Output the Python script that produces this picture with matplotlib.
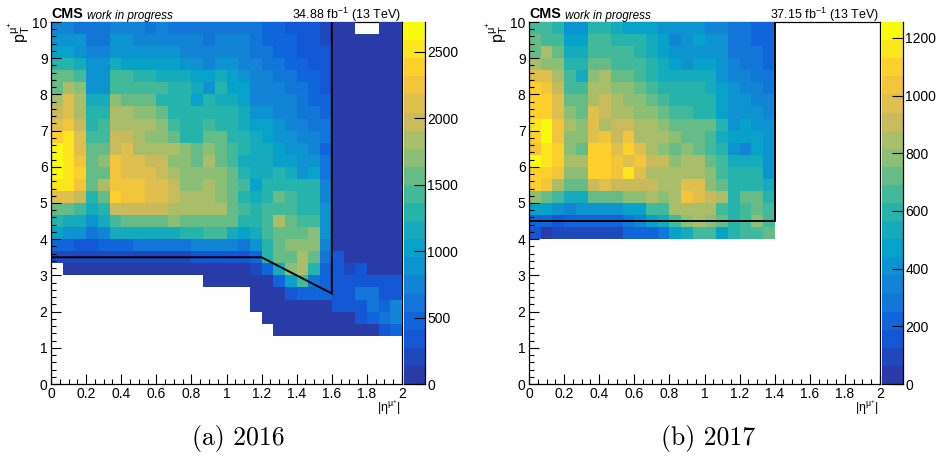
# %%
import numpy as np
import matplotlib
matplotlib.use('Agg')
import matplotlib.pyplot as plt
from matplotlib.colors import BoundaryNorm, LinearSegmentedColormap
from matplotlib.ticker import MultipleLocator, FormatStrFormatter

plt.rcParams['font.family'] = ['Liberation Sans', 'DejaVu Sans']
plt.rcParams['mathtext.fontset'] = 'custom'
plt.rcParams['mathtext.rm'] = 'Liberation Sans'
plt.rcParams['mathtext.it'] = 'Liberation Sans:italic'
plt.rcParams['mathtext.default'] = 'regular'

# %%
n = np.nan

# rows run from pT = 10 down to pT = 0, columns from |eta| = 0 to |eta| = 2
counts_2016 = [
    [750,750,610,610,610,750,750,750,610,750,610,610,610,610,610,610,610,610,480,480,340,340,340,200,70,70,n,n,70,70],
    [880,880,880,610,610,880,880,750,750,750,750,750,750,610,750,750,750,610,480,480,480,340,340,200,70,70,70,70,70,70],
    [1020,1020,880,750,750,880,880,880,880,880,880,750,750,750,750,750,750,610,610,480,480,340,340,340,70,70,70,70,70,70],
    [1290,1290,1160,880,880,1160,1020,1020,1020,1020,1020,880,880,750,880,880,750,750,610,610,480,480,340,340,70,70,70,70,70,70],
    [1560,1560,1430,880,880,1430,1430,1290,1290,1160,1160,1160,1020,1020,1160,1020,880,750,750,610,610,480,480,340,70,70,70,70,70,70],
    [1560,1840,1700,880,880,1430,1430,1430,1430,1430,1290,1290,1160,880,1290,1020,1020,750,750,750,610,610,480,340,70,70,70,70,70,70],
    [1840,2110,1840,1160,1160,1700,1560,1560,1560,1290,1290,1290,1020,1290,1160,1160,1020,750,750,750,750,610,480,480,70,70,70,70,70,70],
    [1970,2110,1840,1290,1290,1840,1840,1700,1700,1560,1290,1290,1290,1290,1290,1290,1160,880,880,750,750,610,610,480,70,70,70,70,70,70],
    [2110,2240,1970,1290,1430,1840,1840,1840,1840,1700,1430,1290,1290,1430,1290,1290,1160,1020,1020,880,750,750,610,610,70,70,70,70,70,70],
    [2380,2520,2110,1430,1430,1970,1970,1840,1700,1700,1560,1290,1290,1560,1560,1290,1290,1160,1020,880,880,750,750,610,70,70,70,70,70,70],
    [2650,2520,2110,1560,1560,1970,2110,1840,1840,1840,1840,1700,1560,1700,1560,1430,1290,1160,1160,1020,880,880,750,480,70,70,70,70,70,70],
    [2650,2520,2240,1560,1700,2240,2110,2110,1970,1970,1700,1700,1560,1840,1560,1430,1160,1160,1160,1020,1020,880,880,610,70,70,70,70,70,70],
    [2650,2520,2380,1560,1560,2240,2110,2110,2110,1970,1840,1700,1700,1700,1700,1560,1290,1160,1160,1290,1160,880,1020,610,70,70,70,70,70,70],
    [2520,2520,2240,1560,1840,2240,2240,2240,2110,2110,1970,1700,1700,1840,1700,1560,1430,1020,1290,1290,1290,1290,1290,750,70,70,70,70,70,70],
    [2110,2110,1970,1290,1560,2380,2240,2240,2110,2110,1970,1840,1840,1840,1700,1560,1290,1160,1290,1560,1430,1290,1290,750,70,70,70,70,70,70],
    [1560,1560,1430,1160,1290,1970,1970,1970,1970,1970,1840,1840,1840,1840,1840,1560,1430,1290,1430,1430,1430,1290,1290,880,70,70,70,70,70,70],
    [1290,1160,1160,880,1160,1430,1560,1560,1560,1560,1700,1560,1560,1560,1560,1560,1290,1290,1430,1840,1560,1430,1430,880,70,70,70,70,70,70],
    [1020,880,880,610,750,1160,1160,1160,1160,1160,1160,1290,1290,1430,1430,1160,1020,1160,1430,1560,1560,1560,1700,880,70,70,70,70,70,70],
    [480,480,340,340,480,480,480,610,610,610,610,610,750,750,750,750,610,880,1290,1560,1700,1700,1700,750,70,70,70,70,70,70],
    [200,200,200,200,200,200,200,200,200,200,200,200,340,340,340,340,340,480,1290,1560,1560,1840,1560,610,340,70,70,70,70,70],
    [n,70,70,70,70,70,70,70,70,70,70,70,70,70,70,70,70,200,480,1160,1700,1840,1290,480,340,200,340,70,70,70],
    [n,n,n,n,n,n,n,n,n,n,n,n,n,70,70,70,70,70,70,480,1020,1430,610,480,340,340,340,340,340,340],
    [n,n,n,n,n,n,n,n,n,n,n,n,n,n,n,n,n,70,70,70,340,480,480,480,340,340,610,610,340,340],
    [n,n,n,n,n,n,n,n,n,n,n,n,n,n,n,n,n,70,70,70,70,70,70,70,340,340,340,610,480,750],
    [n,n,n,n,n,n,n,n,n,n,n,n,n,n,n,n,n,n,70,70,70,70,70,70,70,70,340,480,610,750],
    [n,n,n,n,n,n,n,n,n,n,n,n,n,n,n,n,n,n,n,70,70,70,70,70,70,70,70,70,340,480],
    [n] * 30,
    [n] * 30,
    [n] * 30,
    [n] * 30,
]

# only the first 21 columns and the top 18 rows are filled for 2017
counts_2017 = [
    [660,660,600,410,410,600,600,530,470,470,470,410,410,410,410,345,345,280,280,220,220],
    [720,660,660,470,470,660,660,600,600,600,530,470,345,410,470,410,410,280,280,220,220],
    [720,850,720,530,530,660,660,660,660,600,530,470,410,410,410,410,410,280,280,280,220],
    [850,780,780,600,600,720,720,660,660,660,600,530,470,410,470,470,410,345,280,280,220],
    [970,970,850,660,530,780,850,720,720,660,600,530,530,530,530,530,410,345,345,280,280],
    [1100,1035,910,660,660,850,850,780,780,720,660,600,600,600,600,530,470,410,345,345,280],
    [1100,1100,970,720,720,850,910,850,780,780,720,660,600,600,600,600,470,410,410,345,345],
    [1100,1100,970,780,720,970,910,850,850,780,780,720,660,660,600,600,470,410,410,410,345],
    [1160,1220,1035,850,780,970,850,910,910,850,850,780,720,720,720,720,600,410,470,410,410],
    [1100,1220,1035,780,780,970,1035,910,1035,850,850,850,780,720,720,660,530,470,470,470,410],
    [1035,1160,1100,780,720,1100,1100,970,1100,970,850,780,720,780,720,660,600,410,345,470,410],
    [1220,1160,1100,850,850,1100,1100,1035,970,1035,910,910,780,850,850,720,660,530,530,530,410],
    [1100,1100,1035,780,780,1100,1100,1035,1160,970,850,850,850,850,850,780,660,600,600,600,410],
    [1100,1035,850,720,720,910,970,910,910,910,910,850,850,970,970,780,720,600,600,600,530],
    [780,720,660,530,530,720,720,720,780,780,850,780,850,1035,970,910,850,600,720,720,600],
    [470,470,410,345,410,410,410,410,470,470,660,660,850,850,850,850,660,600,660,720,660],
    [220,220,160,220,220,220,220,220,280,345,470,530,660,780,850,780,720,600,660,780,660],
    [160,30,90,90,90,90,90,90,220,220,220,280,470,530,660,660,470,600,660,660,720],
]

zmax_2016 = 2725
zmax_2017 = 1255
zticks_2016 = [0, 500, 1000, 1500, 2000, 2500]
zticks_2017 = [0, 200, 400, 600, 800, 1000, 1200]

cut_eta_2016 = [0, 1.2, 1.6, 1.6]
cut_pt_2016 = [3.5, 3.5, 2.5, 10]
cut_eta_2017 = [0, 1.4, 1.4]
cut_pt_2017 = [4.5, 4.5, 10]

lumi_2016 = '34.88 fb$^{-1}$ (13 TeV)'
lumi_2017 = '37.15 fb$^{-1}$ (13 TeV)'

# %%
# ROOT kBird palette, the dark end lifted towards the blue of the reference
bird = LinearSegmentedColormap.from_list('bird', [
    (0.16, 0.23, 0.65),
    (0.0592, 0.3599, 0.8684),
    (0.0780, 0.5041, 0.8385),
    (0.0232, 0.6419, 0.7914),
    (0.1802, 0.7178, 0.6425),
    (0.5301, 0.7492, 0.4662),
    (0.8186, 0.7328, 0.3499),
    (0.9956, 0.7862, 0.1968),
    (0.9764, 0.9832, 0.0539),
], N=20)

W, H = 938, 457
fig = plt.figure(figsize=(W / 100, H / 100), dpi=100)


def box(x0, x1, y0, y1):
    return [x0 / W, 1 - y1 / H, (x1 - x0) / W, (y1 - y0) / H]


def panel(counts, zmax, zticks, cut_eta, cut_pt, lumi, caption, x0, caption_x):
    ax = fig.add_axes(box(x0, x0 + 351, 22, 384))
    cax = fig.add_axes(box(x0 + 352.5, x0 + 373.5, 22, 384))

    # pad short rows and missing rows with empty cells
    grid = np.full((30, 30), np.nan)
    for i, row in enumerate(counts):
        grid[i, :len(row)] = row
    eta_edges = np.linspace(0, 2, 31)
    pt_edges = np.linspace(0, 10, 31)
    levels = np.linspace(0, zmax, 21)
    norm = BoundaryNorm(levels, 20)
    ax.pcolormesh(eta_edges, pt_edges, grid[::-1], cmap=bird, norm=norm, zorder=1)
    ax.plot(cut_eta, cut_pt, color='black', lw=1.4, solid_joinstyle='miter', zorder=4)

    ax.set_xlim(0, 2)
    ax.set_ylim(0, 10)
    ax.xaxis.set_major_locator(MultipleLocator(0.2))
    ax.xaxis.set_minor_locator(MultipleLocator(0.05))
    ax.xaxis.set_major_formatter(FormatStrFormatter('%g'))
    ax.yaxis.set_major_locator(MultipleLocator(1))
    ax.yaxis.set_minor_locator(MultipleLocator(0.2))
    ax.tick_params(which='major', direction='in', length=7.2, width=0.8, labelsize=10, pad=2.5)
    ax.tick_params(which='minor', direction='in', length=3.6, width=0.8)
    for side in ['top', 'right']:
        ax.spines[side].set_zorder(0.5)
    for spine in ax.spines.values():
        spine.set_linewidth(0.9)

    cax.pcolormesh([0, 1], levels, levels[:-1].reshape(-1, 1) + zmax / 40, cmap=bird, norm=norm)
    cax.set_xticks([])
    cax.set_ylim(0, zmax)
    cax.set_yticks(zticks)
    cax.yaxis.tick_right()
    cax.tick_params(direction='in', length=7.9, width=0.8, labelsize=10, pad=2)
    for side in ['top', 'left']:
        cax.spines[side].set_visible(False)
    cax.spines['bottom'].set_linewidth(0.9)
    cax.spines['right'].set_linewidth(0.9)

    # titles and axis labels, placed in pixels of the figure
    fig.text(x0 / W, 1 - 18.5 / H, 'CMS', fontsize=10.3, fontweight='bold', ha='left', va='baseline')
    fig.text((x0 + 36) / W, 1 - 18.5 / H, 'work in progress', fontsize=8.5, style='italic', ha='left', va='baseline')
    fig.text((x0 + 350) / W, 1 - 18.5 / H, lumi, fontsize=9, ha='right', va='baseline')
    fig.text((x0 - 32) / W, 1 - 21 / H, r'$p_{T}^{\mu^{+}}$', fontsize=11.5, rotation=90, ha='center', va='top')
    fig.text((x0 + 350) / W, 1 - 408 / H, r'$|\eta^{\mu^{+}}|$', fontsize=9, ha='right', va='center')
    fig.text(caption_x / W, 1 - 438 / H, caption, family='cmr10', fontsize=18.5, ha='center', va='center')


panel(counts_2016, zmax_2016, zticks_2016, cut_eta_2016, cut_pt_2016, lumi_2016, '(a) 2016', 51, 238)
panel(counts_2017, zmax_2017, zticks_2017, cut_eta_2017, cut_pt_2017, lumi_2017, '(b) 2017', 529, 708)

fig.savefig('out.png', dpi=100)
